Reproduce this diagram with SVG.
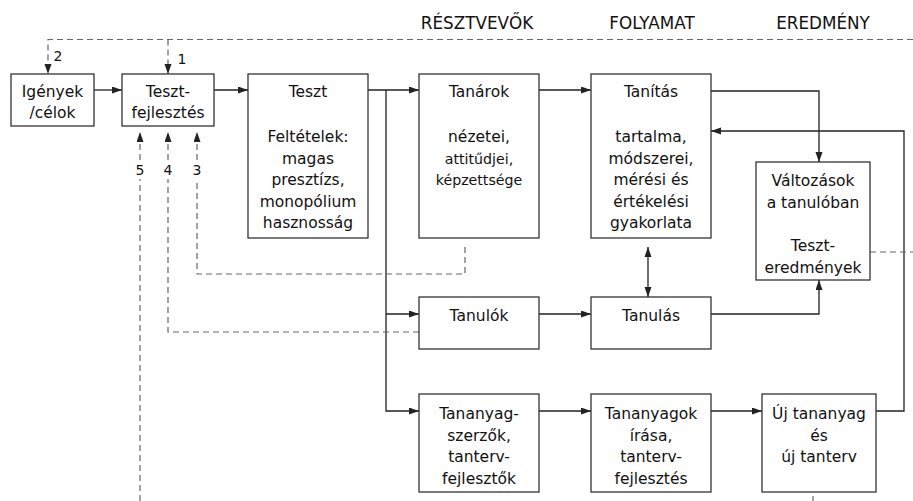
<svg xmlns="http://www.w3.org/2000/svg" width="913" height="501" viewBox="0 0 913 501">
<style>
.box{fill:#fff;stroke:#333;stroke-width:1.3}
.t{font-family:"DejaVu Sans",Verdana,sans-serif;font-size:15.5px;fill:#111;text-anchor:middle}
.s{font-size:14.2px}
.h{font-family:"DejaVu Sans",Verdana,sans-serif;font-size:16.8px;fill:#111;text-anchor:middle}
.n{font-family:"DejaVu Sans",Verdana,sans-serif;font-size:14px;fill:#111;text-anchor:middle}
.c{fill:none;stroke:#222;stroke-width:1.3}
.d{fill:none;stroke:#666;stroke-width:1.2;stroke-dasharray:6 4}
</style>
<defs>
<marker id="a" markerUnits="userSpaceOnUse" markerWidth="10" markerHeight="8" refX="10" refY="3.5" orient="auto">
<path d="M0,0 L10,3.5 L0,7 z" fill="#222"/>
</marker>
<marker id="as" markerUnits="userSpaceOnUse" markerWidth="10" markerHeight="8" refX="0" refY="3.5" orient="auto">
<path d="M10,0 L0,3.5 L10,7 z" fill="#222"/>
</marker>
</defs>

<g id="headers">
<text class="h" x="477" y="29">RÉSZTVEVŐK</text>
<text class="h" x="652" y="29">FOLYAMAT</text>
<text class="h" x="823" y="29">EREDMÉNY</text>
</g>

<g id="connectors">
<path class="c" d="M94 90 H122" marker-end="url(#a)"/>
<path class="c" d="M214 90 H248" marker-end="url(#a)"/>
<path class="c" d="M368 90 H419" marker-end="url(#a)"/>
<path class="c" d="M386 90 V411 H419" marker-end="url(#a)"/>
<path class="c" d="M386 314 H419" marker-end="url(#a)"/>
<path class="c" d="M539 90 H591" marker-end="url(#a)"/>
<path class="c" d="M711 91 H819 V162" marker-end="url(#a)"/>
<path class="c" d="M876 411 H904 V131 H711" marker-end="url(#a)"/>
<path class="c" d="M539 314 H591" marker-end="url(#a)"/>
<path class="c" d="M711 314 H819 V280" marker-end="url(#a)"/>
<path class="c" d="M648 247 V297" marker-start="url(#as)" marker-end="url(#a)"/>
<path class="c" d="M539 411 H591" marker-end="url(#a)"/>
<path class="c" d="M711 411 H762" marker-end="url(#a)"/>
<path class="d" d="M913 39.5 H48 V74" marker-end="url(#a)"/>
<path class="d" d="M168 39.5 V74" marker-end="url(#a)"/>
<path class="d" d="M140 501 V179"/>
<path class="d" d="M140 160 V132" marker-end="url(#a)"/>
<path class="d" d="M419 332 H168 V179"/>
<path class="d" d="M168 160 V132" marker-end="url(#a)"/>
<path class="d" d="M465 247 V274 H197 V179"/>
<path class="d" d="M197 160 V132" marker-end="url(#a)"/>
<path class="d" d="M870 252 H913"/>
<path class="d" d="M813 496 V501"/>
<text class="n" x="58" y="61">2</text>
<text class="n" x="182" y="64">1</text>
<text class="n" x="140" y="175">5</text>
<text class="n" x="168" y="175">4</text>
<text class="n" x="197" y="175">3</text>
</g>

<g id="igenyek">
<rect class="box" x="11" y="74" width="83" height="52"/>
<text class="t" x="52.5" y="97">Igények</text>
<text class="t" x="52.5" y="118">/célok</text>
</g>

<g id="tesztfejlesztes">
<rect class="box" x="122" y="74" width="92" height="52"/>
<text class="t" x="168" y="97">Teszt-</text>
<text class="t" x="168" y="118">fejlesztés</text>
</g>

<g id="teszt">
<rect class="box" x="248" y="74" width="120" height="164"/>
<text class="t" x="308" y="97">Teszt</text>
<text class="t" x="308" y="142">Feltételek:</text>
<text class="t" x="308" y="163.5">magas</text>
<text class="t" x="308" y="185">presztízs,</text>
<text class="t" x="308" y="206.5">monopólium</text>
<text class="t" x="308" y="228">hasznosság</text>
</g>

<g id="tanarok">
<rect class="box" x="419" y="74" width="120" height="164"/>
<text class="t" x="479" y="97">Tanárok</text>
<text class="t" x="479" y="142">nézetei,</text>
<text class="t s" x="479" y="163.5">attitűdjei,</text>
<text class="t s" x="479" y="185">képzettsége</text>
</g>

<g id="tanitas">
<rect class="box" x="591" y="74" width="120" height="164"/>
<text class="t" x="651" y="97">Tanítás</text>
<text class="t" x="651" y="142">tartalma,</text>
<text class="t" x="651" y="163.5">módszerei,</text>
<text class="t" x="651" y="185">mérési és</text>
<text class="t" x="651" y="206.5">értékelési</text>
<text class="t" x="651" y="228">gyakorlata</text>
</g>

<g id="valtozasok">
<rect class="box" x="756" y="162" width="114" height="118"/>
<text class="t" x="813" y="186">Változások</text>
<text class="t" x="813" y="207.5">a tanulóban</text>
<text class="t" x="813" y="251">Teszt-</text>
<text class="t" x="813" y="272.5">eredmények</text>
</g>

<g id="tanulok">
<rect class="box" x="419" y="297" width="120" height="52"/>
<text class="t" x="479" y="321">Tanulók</text>
</g>

<g id="tanulas">
<rect class="box" x="591" y="297" width="120" height="52"/>
<text class="t" x="651" y="321">Tanulás</text>
</g>

<g id="tananyagszerzok">
<rect class="box" x="419" y="394" width="120" height="98"/>
<text class="t" x="479" y="419">Tananyag-</text>
<text class="t" x="479" y="440.5">szerzők,</text>
<text class="t" x="479" y="462">tanterv-</text>
<text class="t" x="479" y="483.5">fejlesztők</text>
</g>

<g id="tananyagok">
<rect class="box" x="591" y="394" width="120" height="98"/>
<text class="t" x="651" y="419">Tananyagok</text>
<text class="t" x="651" y="440.5">írása,</text>
<text class="t" x="651" y="462">tanterv-</text>
<text class="t" x="651" y="483.5">fejlesztés</text>
</g>

<g id="ujtananyag">
<rect class="box" x="762" y="394" width="114" height="98"/>
<text class="t" x="819" y="419">Új tananyag</text>
<text class="t" x="819" y="440.5">és</text>
<text class="t" x="819" y="462">új tanterv</text>
</g>
</svg>
